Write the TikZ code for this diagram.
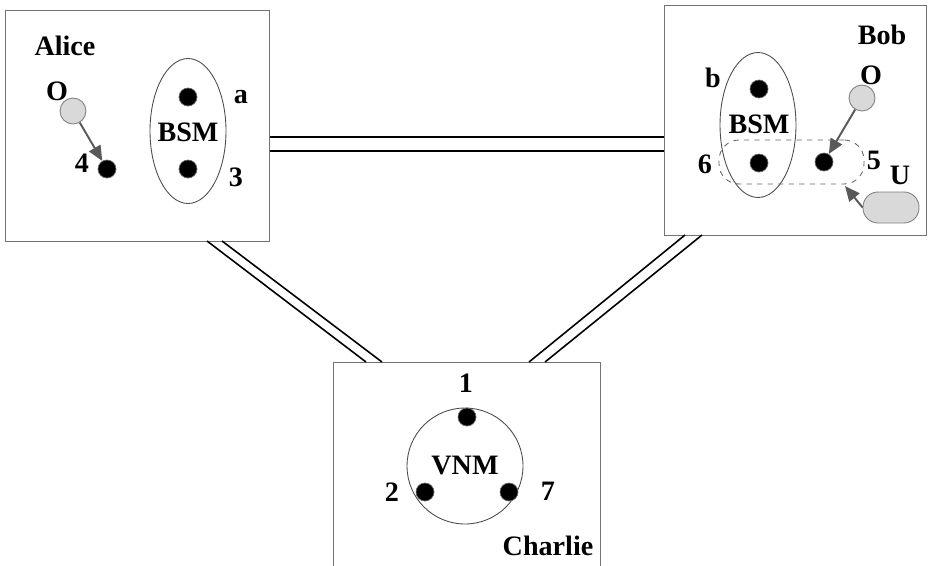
\documentclass[tikz,border=0pt]{standalone}
\usepackage{fontspec}
\setmainfont{Liberation Serif}
\usepackage{tikz}
\usetikzlibrary{positioning, arrows.meta, shapes.geometric}

\begin{document}
\begin{tikzpicture}[
    x=0.02cm, y=-0.02cm,
    every node/.style={font=\bfseries\fontsize{16}{18}\selectfont, inner sep=0pt},
    party/.style={draw=black!55, line width=0.6pt, rectangle, anchor=north west},
    bsm/.style={draw=black!70, ellipse, line width=0.5pt, minimum width=1.52cm, minimum height=2.9cm},
    qubit/.style={circle, fill=black, draw=black!60, minimum size=0.36cm},
    source/.style={circle, fill=black!15, draw=black!50, line width=0.5pt, minimum size=0.52cm},
    link/.style={draw=black, line width=0.9pt},
    arr/.style={-{Triangle[length=0.3cm, width=0.26cm]}, line width=1.1pt, black!65},
]
\clip (0,0) rectangle (928,565);

% === Parties ===
\node[party, minimum width=5.28cm, minimum height=4.62cm] (alice) at (5,10) {};
\node[party, minimum width=5.24cm, minimum height=4.6cm] (bob) at (664,5) {};
\node[party, minimum width=5.34cm, minimum height=4.4cm] (charlie) at (333,362) {};

% === Links between parties ===
\coordinate (ab1) at (0,137);
\coordinate (ab2) at (0,151);
\draw[link] (alice.east |- ab1) -- (bob.west |- ab1);
\draw[link] (alice.east |- ab2) -- (bob.west |- ab2);
% Alice -- Charlie
\coordinate (ac1) at (207,241);
\coordinate (ac2) at (366,362);
\coordinate (ac3) at (222,241);
\coordinate (ac4) at (382,362);
\draw[link] (ac1) -- (ac2);
\draw[link] (ac3) -- (ac4);
% Bob -- Charlie
\coordinate (bc1) at (685,235);
\coordinate (bc2) at (529,362);
\coordinate (bc3) at (702,235);
\coordinate (bc4) at (545,362);
\draw[link] (bc1) -- (bc2);
\draw[link] (bc3) -- (bc4);

% --- Alice ---
\node at (65,46) (alicename) {Alice};
\node[bsm] at (188,131) (bsma) {};
\node at (188,132) {BSM};
\node[qubit] at (188,97) (qa) {};
\node[qubit] at (188,169) (q3) {};
\node at (241,97) {a};
\node at (236,177) {3};
\node[source] at (73,111) (srca) {};
\node at (57,91) {O};
\node[qubit] at (107,169) (q4) {};
\node at (82,163) {4};
\draw[arr] (srca) -- (q4);

% --- Bob ---
\node at (882,35) (bobname) {Bob};
\node[bsm] at (758,125) (bsmb) {};
\node at (759,124) {BSM};
\node[qubit] at (759,89) (qb) {};
\node[qubit] at (759,163) (q6) {};
\node[qubit] at (824,162) (q5) {};
\node at (713,78) {b};
\node at (705,164) {6};
\node at (874,160) {5};
\node[source] at (862,98) (srcb) {};
\node at (871,75) {O};
\node[draw=black!60, dashed, line width=0.5pt, rounded corners=0.4cm,
    minimum width=2.9cm, minimum height=0.88cm] at (791.5,162) (pair) {};
\node[draw=black!50, fill=black!15, line width=0.5pt, rounded corners=0.3cm,
    minimum width=1.12cm, minimum height=0.62cm] at (891,207.5) (usrc) {};
\node at (900,175) {U};
\coordinate (uend) at (845,186);
\draw[arr] (srcb) -- (q5);
\draw[arr] (usrc.west) -- (uend);

% --- Charlie ---
\node[draw=black!70, circle, line width=0.5pt, minimum size=2.32cm] at (465,466) (vnm) {};
\node at (465,465) {VNM};
\node[qubit] at (467,417) (q1) {};
\node[qubit] at (425,492) (q2) {};
\node[qubit] at (509,492) (q7) {};
\node at (466,383) {1};
\node at (392,492) {2};
\node at (548,491) {7};
\node at (548,546) (charliename) {Charlie};

\end{tikzpicture}
\end{document}
